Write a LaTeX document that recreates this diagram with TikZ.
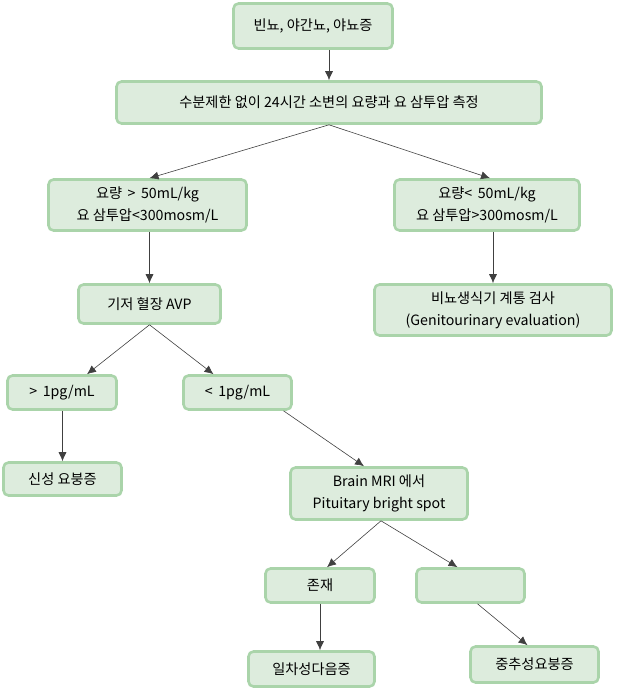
\documentclass[tikz,border=0pt]{standalone}
\usepackage{fontspec}
\usepackage{tikz}
\usetikzlibrary{arrows.meta}
\newfontfamily\krfont{Noto Sans CJK KR}
\definecolor{boxfill}{RGB}{221,236,221}
\definecolor{boxline}{RGB}{170,212,170}

\begin{document}
\begin{tikzpicture}[x=1pt,y=-1pt,
    box/.style={draw=boxline,fill=boxfill,line width=2.6pt,rounded corners=5pt,
      align=center,inner sep=2pt,font=\krfont\fontsize{14.2}{22}\selectfont},
    arr/.style={draw=black!75,line width=0.6pt,-{Latex[length=9pt,width=8pt]}}]
        \useasboundingbox (0,0) rectangle (616,690);
        % question and measurement
        \node[box,minimum width=159,minimum height=45] (sym) at (313,26) {빈뇨, 야간뇨, 야뇨증};
        \node[box,minimum width=425,minimum height=42] (meas) at (329,102.5)
          {수분제한 없이 24시간 소변의 요량과 요 삼투압 측정};
        % urine volume and osmolality
        \node[box,minimum width=198,minimum height=51] (hi) at (147.5,205)
          {요량 \,>\, 50mL/kg\\요 삼투압<300mosm/L};
        \node[box,minimum width=185,minimum height=51] (lo) at (487,205)
          {요량< \,50mL/kg\\요 삼투압>300mosm/L};
        \node[box,minimum width=142,minimum height=39] (avp) at (149.5,304) {기저 혈장 AVP};
        \node[box,minimum width=237,minimum height=51] (geni) at (493,310)
          {비뇨생식기 계통 검사\\(Genitourinary evaluation)};
        % plasma AVP
        \node[box,minimum width=109,minimum height=34] (gt) at (62,392.5) {> \,1pg/mL};
        \node[box,minimum width=108,minimum height=34] (lt) at (237.5,392.5) {< \,1pg/mL};
        \node[box,minimum width=118,minimum height=33] (neph) at (62.5,479) {신성 요붕증};
        \node[box,minimum width=177,minimum height=52] (mri) at (379,493.5)
          {Brain MRI 에서\\Pituitary bright spot};
        % bright spot
        \node[box,minimum width=109,minimum height=34] (yes) at (320,585.5) {존재};
        \node[box,minimum width=108,minimum height=34] (no) at (470.5,585.5) {};
        \node[box,minimum width=126,minimum height=35] (prim) at (311.5,669) {일차성다음증};
        \node[box,minimum width=128,minimum height=36] (cent) at (534.5,664.5) {중추성요붕증};

        \draw[arr] (sym.south -| meas.north) -- (meas.north);
        \draw[arr] (meas.south) -- ([xshift=2pt]hi.north);
        \draw[arr] (meas.south) -- ([xshift=3pt]lo.north);
        \draw[arr] (hi.south -| avp.north) -- (avp.north);
        \draw[arr] (lo.south -| geni.north) -- (geni.north);
        \draw[arr] (avp.south) -- ([xshift=25pt]gt.north);
        \draw[arr] (avp.south) -- ([xshift=-24pt]lt.north);
        \draw[arr] (gt.south -| neph.north) -- (neph.north);
        \draw[arr] ([xshift=46pt]lt.south) -- ([xshift=-15pt]mri.north);
        \draw[arr] ([xshift=2pt]mri.south) -- ([xshift=7pt]yes.north);
        \draw[arr] ([xshift=2pt]mri.south) -- ([xshift=-13pt]no.north);
        \draw[arr] (yes.south) -- (yes.south |- prim.north);
        \draw[arr] ([xshift=7pt]no.south) -- ([xshift=-7pt]cent.north);
      \end{tikzpicture}
\end{document}
